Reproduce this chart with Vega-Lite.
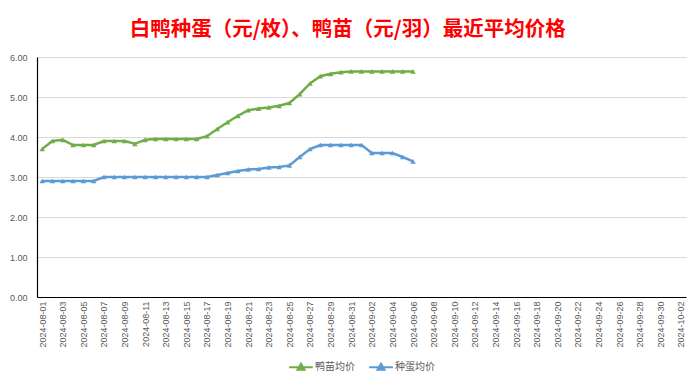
{
  "$schema": "https://vega.github.io/schema/vega-lite/v6.json",
  "width": 700,
  "height": 384,
  "autosize": {"type": "fit", "contains": "padding"},
  "padding": {"left": 9, "right": 14, "top": 19, "bottom": 10},
  "background": "white",
  "config": {
    "font": "Noto Sans CJK SC",
    "view": {"stroke": null},
    "legend": {"layout": {"bottom": {"anchor": "middle"}}}
  },
  "title": {
    "text": "白鸭种蛋（元/枚）、鸭苗（元/羽）最近平均价格",
    "color": "#FF0000",
    "fontSize": 20.5,
    "fontWeight": "bold",
    "font": "Noto Sans CJK SC",
    "anchor": "middle",
    "frame": "bounds",
    "offset": 13
  },
  "data": {
    "values": [
      {"date": "2024-08-01", "鸭苗均价": 3.70, "种蛋均价": 2.90},
      {"date": "2024-08-02", "鸭苗均价": 3.90, "种蛋均价": 2.90},
      {"date": "2024-08-03", "鸭苗均价": 3.93, "种蛋均价": 2.90},
      {"date": "2024-08-04", "鸭苗均价": 3.80, "种蛋均价": 2.90},
      {"date": "2024-08-05", "鸭苗均价": 3.80, "种蛋均价": 2.90},
      {"date": "2024-08-06", "鸭苗均价": 3.80, "种蛋均价": 2.90},
      {"date": "2024-08-07", "鸭苗均价": 3.90, "种蛋均价": 3.00},
      {"date": "2024-08-08", "鸭苗均价": 3.90, "种蛋均价": 3.00},
      {"date": "2024-08-09", "鸭苗均价": 3.90, "种蛋均价": 3.00},
      {"date": "2024-08-10", "鸭苗均价": 3.83, "种蛋均价": 3.00},
      {"date": "2024-08-11", "鸭苗均价": 3.93, "种蛋均价": 3.00},
      {"date": "2024-08-12", "鸭苗均价": 3.95, "种蛋均价": 3.00},
      {"date": "2024-08-13", "鸭苗均价": 3.95, "种蛋均价": 3.00},
      {"date": "2024-08-14", "鸭苗均价": 3.95, "种蛋均价": 3.00},
      {"date": "2024-08-15", "鸭苗均价": 3.95, "种蛋均价": 3.00},
      {"date": "2024-08-16", "鸭苗均价": 3.95, "种蛋均价": 3.00},
      {"date": "2024-08-17", "鸭苗均价": 4.02, "种蛋均价": 3.00},
      {"date": "2024-08-18", "鸭苗均价": 4.20, "种蛋均价": 3.05},
      {"date": "2024-08-19", "鸭苗均价": 4.37, "种蛋均价": 3.10},
      {"date": "2024-08-20", "鸭苗均价": 4.53, "种蛋均价": 3.15},
      {"date": "2024-08-21", "鸭苗均价": 4.67, "种蛋均价": 3.19},
      {"date": "2024-08-22", "鸭苗均价": 4.71, "种蛋均价": 3.20},
      {"date": "2024-08-23", "鸭苗均价": 4.74, "种蛋均价": 3.24},
      {"date": "2024-08-24", "鸭苗均价": 4.78, "种蛋均价": 3.25},
      {"date": "2024-08-25", "鸭苗均价": 4.85, "种蛋均价": 3.29},
      {"date": "2024-08-26", "鸭苗均价": 5.07, "种蛋均价": 3.50},
      {"date": "2024-08-27", "鸭苗均价": 5.34, "种蛋均价": 3.70},
      {"date": "2024-08-28", "鸭苗均价": 5.52, "种蛋均价": 3.80},
      {"date": "2024-08-29", "鸭苗均价": 5.58, "种蛋均价": 3.80},
      {"date": "2024-08-30", "鸭苗均价": 5.62, "种蛋均价": 3.80},
      {"date": "2024-08-31", "鸭苗均价": 5.64, "种蛋均价": 3.80},
      {"date": "2024-09-01", "鸭苗均价": 5.64, "种蛋均价": 3.80},
      {"date": "2024-09-02", "鸭苗均价": 5.64, "种蛋均价": 3.60},
      {"date": "2024-09-03", "鸭苗均价": 5.64, "种蛋均价": 3.60},
      {"date": "2024-09-04", "鸭苗均价": 5.64, "种蛋均价": 3.60},
      {"date": "2024-09-05", "鸭苗均价": 5.64, "种蛋均价": 3.50},
      {"date": "2024-09-06", "鸭苗均价": 5.64, "种蛋均价": 3.39}
    ]
  },
  "transform": [
    {"fold": ["鸭苗均价", "种蛋均价"], "as": ["series", "price"]}
  ],
  "encoding": {
    "x": {
      "field": "date",
      "type": "temporal",
      "title": null,
      "scale": {
        "type": "utc",
        "domain": [
          {"year": 2024, "month": 7, "date": 31, "hours": 12, "utc": true},
          {"year": 2024, "month": 10, "date": 2, "hours": 12, "utc": true}
        ]
      },
      "axis": {
        "labelExpr": "utcFormat(datum.value, '%Y-%m-%d')",
        "labelAngle": -90,
        "labelAlign": "right",
        "labelBaseline": "middle",
        "labelFontSize": 9,
        "labelColor": "#595959",
        "labelFont": "Liberation Sans",
        "labelPadding": 4,
        "ticks": false,
        "grid": false,
        "domainColor": "#000000",
        "domainWidth": 1.2,
        "labelOverlap": false,
        "values": [
          {"year": 2024, "month": 8, "date": 1, "utc": true},
          {"year": 2024, "month": 8, "date": 3, "utc": true},
          {"year": 2024, "month": 8, "date": 5, "utc": true},
          {"year": 2024, "month": 8, "date": 7, "utc": true},
          {"year": 2024, "month": 8, "date": 9, "utc": true},
          {"year": 2024, "month": 8, "date": 11, "utc": true},
          {"year": 2024, "month": 8, "date": 13, "utc": true},
          {"year": 2024, "month": 8, "date": 15, "utc": true},
          {"year": 2024, "month": 8, "date": 17, "utc": true},
          {"year": 2024, "month": 8, "date": 19, "utc": true},
          {"year": 2024, "month": 8, "date": 21, "utc": true},
          {"year": 2024, "month": 8, "date": 23, "utc": true},
          {"year": 2024, "month": 8, "date": 25, "utc": true},
          {"year": 2024, "month": 8, "date": 27, "utc": true},
          {"year": 2024, "month": 8, "date": 29, "utc": true},
          {"year": 2024, "month": 8, "date": 31, "utc": true},
          {"year": 2024, "month": 9, "date": 2, "utc": true},
          {"year": 2024, "month": 9, "date": 4, "utc": true},
          {"year": 2024, "month": 9, "date": 6, "utc": true},
          {"year": 2024, "month": 9, "date": 8, "utc": true},
          {"year": 2024, "month": 9, "date": 10, "utc": true},
          {"year": 2024, "month": 9, "date": 12, "utc": true},
          {"year": 2024, "month": 9, "date": 14, "utc": true},
          {"year": 2024, "month": 9, "date": 16, "utc": true},
          {"year": 2024, "month": 9, "date": 18, "utc": true},
          {"year": 2024, "month": 9, "date": 20, "utc": true},
          {"year": 2024, "month": 9, "date": 22, "utc": true},
          {"year": 2024, "month": 9, "date": 24, "utc": true},
          {"year": 2024, "month": 9, "date": 26, "utc": true},
          {"year": 2024, "month": 9, "date": 28, "utc": true},
          {"year": 2024, "month": 9, "date": 30, "utc": true},
          {"year": 2024, "month": 10, "date": 2, "utc": true}
        ]
      }
    },
    "y": {
      "field": "price",
      "type": "quantitative",
      "title": null,
      "scale": {"domain": [0, 6], "nice": false},
      "axis": {
        "values": [0, 1, 2, 3, 4, 5, 6],
        "format": ".2f",
        "labelFontSize": 9,
        "labelColor": "#595959",
        "labelFont": "Liberation Sans",
        "labelPadding": 10,
        "ticks": false,
        "gridColor": "#d9d9d9",
        "domainColor": "#000000",
        "domainWidth": 1.2
      }
    },
    "color": {
      "field": "series",
      "type": "nominal",
      "scale": {"domain": ["鸭苗均价", "种蛋均价"], "range": ["#70AD47", "#5B9BD5"]},
      "legend": {
        "orient": "bottom",
        "direction": "horizontal",
        "title": null,
        "labelFontSize": 10,
        "labelColor": "#595959",
        "labelFont": "Noto Sans CJK SC",
        "labelOffset": 1,
        "symbolType": "M-1,0H1M-0.3,0.2L0,-0.3L0.3,0.2Z",
        "symbolSize": 560,
        "symbolStrokeWidth": 2,
        "columnPadding": 10,
        "offset": 6,
        "encode": {"symbols": {"update": {"fill": {"scale": "color", "field": "value"}}}}
      }
    }
  },
  "mark": {
    "type": "line",
    "strokeWidth": 2.5,
    "point": {"shape": "triangle-up", "size": 30, "filled": true}
  }
}
